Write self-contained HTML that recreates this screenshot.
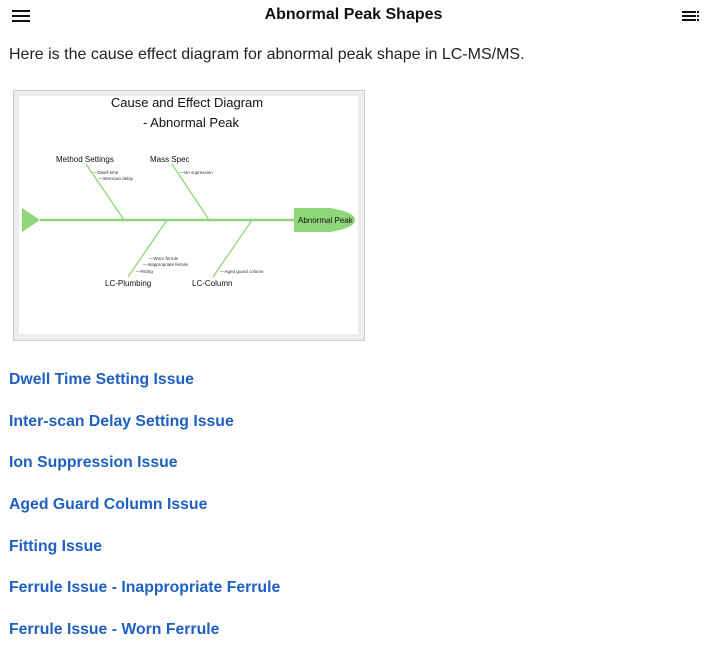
<!DOCTYPE html>
<html><head><style>
body{margin:0;width:707px;height:646px;background:#fff;font-family:"Liberation Sans",sans-serif;position:relative;overflow:hidden}
.t{position:absolute}
a{position:absolute;left:9px;color:#2060c0;font-weight:bold;font-size:15.8px;text-decoration:none}
</style></head><body>
<div class="t" style="left:12px;top:10px;width:18px;height:2px;background:#111;box-shadow:0 5px 0 #111,0 10px 0 #111"></div>
<div class="t" style="left:0;width:707px;top:6px;text-align:center;font-weight:bold;font-size:16px;color:#111">Abnormal Peak Shapes</div>
<div class="t" style="left:682px;top:11px;width:14px;height:2px;background:#111;box-shadow:0 4px 0 #111,0 8px 0 #111"></div>
<div class="t" style="left:697px;top:11px;width:2px;height:2px;background:#111;box-shadow:0 4px 0 #111,0 8px 0 #111"></div>
<div class="t" style="left:9px;top:46px;font-size:16px;color:#222">Here is the cause effect diagram for abnormal peak shape in LC-MS/MS.</div>
<svg class="t" style="left:13px;top:90px" width="352" height="251" viewBox="13 90 352 251" font-family="Liberation Sans,sans-serif">
<rect x="13.5" y="90.5" width="351" height="250" fill="#ececec" stroke="#ccc"/>
<rect x="19" y="96" width="339" height="238" fill="#fff"/>
<text x="187" y="107" font-size="13" text-anchor="middle" fill="#111">Cause and Effect Diagram</text>
<text x="191" y="127" font-size="13" text-anchor="middle" fill="#111">- Abnormal Peak</text>
<g stroke="#8fd67a" stroke-width="1.3">
<line x1="40" y1="220" x2="296" y2="220" stroke-width="2.5"/>
<line x1="86" y1="164" x2="124" y2="220"/>
<line x1="172" y1="164" x2="209" y2="220"/>
<line x1="167" y1="220" x2="128" y2="277"/>
<line x1="252" y1="220" x2="213" y2="277"/>
</g>
<polygon points="22,208 40,220 22,232" fill="#8fd67a"/>
<path d="M294,208 L330,208 Q355,212 355,220 Q355,228 330,232 L294,232 Z" fill="#8fd67a"/>
<text x="298" y="223" font-size="8" fill="#111">Abnormal Peak</text>
<g font-size="8" fill="#111">
<text x="56" y="162">Method Settings</text>
<text x="150" y="162">Mass Spec</text>
<text x="105" y="286">LC-Plumbing</text>
<text x="192" y="286">LC-Column</text>
</g>
<g font-size="4.5" fill="#333">
<text x="93" y="174">—Dwell time</text>
<text x="98" y="180">—Interscan delay</text>
<text x="179" y="174">—Ion supression</text>
<text x="149" y="260">—Worn ferrule</text>
<text x="143" y="266">—Inappropriate ferrule</text>
<text x="136" y="273">—Fitting</text>
<text x="220" y="273">—Aged guard column</text>
</g>
</svg>
<a style="top:371px">Dwell Time Setting Issue</a>
<a style="top:413px">Inter-scan Delay Setting Issue</a>
<a style="top:454px">Ion Suppression Issue</a>
<a style="top:496px">Aged Guard Column Issue</a>
<a style="top:538px">Fitting Issue</a>
<a style="top:579px">Ferrule Issue - Inappropriate Ferrule</a>
<a style="top:621px">Ferrule Issue - Worn Ferrule</a>
</body></html>
